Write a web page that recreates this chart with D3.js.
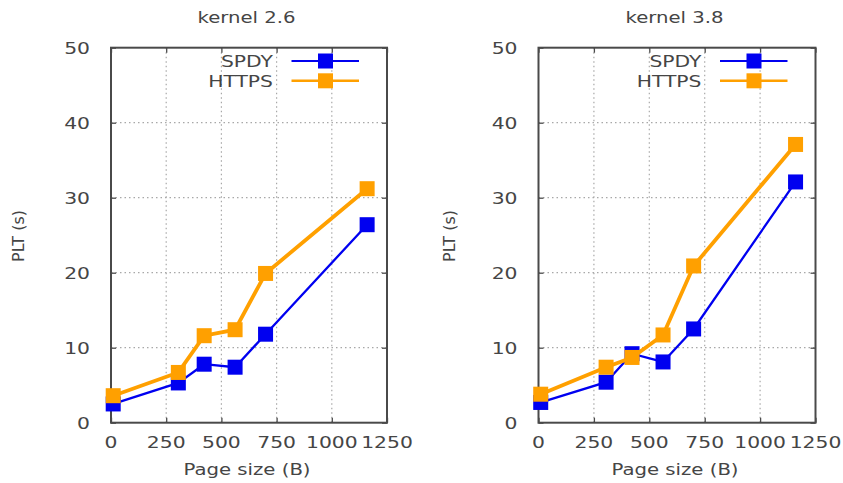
<!DOCTYPE html>
<html>
<head>
<meta charset="utf-8">
<script src="https://cdn.jsdelivr.net/npm/d3@7"></script>
<style>
  html, body { margin: 0; padding: 0; background: #fff; }
  svg { display: block; }
  text { font-family: "DejaVu Sans", sans-serif; fill: #454545; }
</style>
</head>
<body>
<svg id="chart" width="843" height="483"></svg>
<script>
// ---- data ----
const pageSizes = [10, 305, 422, 562, 700, 1160];
const seriesNames = ["SPDY", "HTTPS"];
const kernel26_SPDY  = [2.5, 5.3, 7.8, 7.4, 11.8, 26.4];
const kernel26_HTTPS = [3.6, 6.7, 11.6, 12.4, 19.9, 31.2];
const kernel38_SPDY  = [2.7, 5.4, 9.2, 8.1, 12.5, 32.1];
const kernel38_HTTPS = [3.8, 7.4, 8.7, 11.7, 20.9, 37.1];
const panelTitles = ["kernel 2.6", "kernel 3.8"];
const xTicks = [0, 250, 500, 750, 1000, 1250];
const yTicks = [0, 10, 20, 30, 40, 50];
const xLabel = "Page size (B)";
const yLabel = "PLT (s)";

const panels = [
  { title: panelTitles[0], series: [kernel26_SPDY, kernel26_HTTPS], left: 111, right: 387, ylabX: 18.5 },
  { title: panelTitles[1], series: [kernel38_SPDY, kernel38_HTTPS], left: 538.5, right: 815.5, ylabX: 449 }
];
const colors = ["#0000f0", "#ffa000"];
const lineW = [2.3, 3.8];
const legendLineW = [2, 2.6];
const plotTop = 47.7, plotBottom = 422.7;
const SX = 1.27; // horizontal stretch of the text
const frameColor = "#4a4a4a";

const svg = d3.select("#chart");

function stretchedText(g, x, y, str, anchor, size) {
  return g.append("text")
    .attr("transform", `translate(${x},${y}) scale(${SX},1)`)
    .attr("text-anchor", anchor)
    .attr("font-size", size)
    .text(str);
}

panels.forEach(p => {
  const g = svg.append("g");
  const x = d3.scaleLinear().domain([0, 1250]).range([p.left, p.right]);
  const y = d3.scaleLinear().domain([0, 50]).range([plotBottom, plotTop]);

  // grid
  g.append("g").selectAll("line").data(xTicks.slice(1, -1)).join("line")
    .attr("x1", d => x(d)).attr("x2", d => x(d)).attr("y1", plotTop).attr("y2", plotBottom)
    .attr("stroke", "#a8a8a8").attr("stroke-width", 1.2).attr("stroke-dasharray", "1.5,3");
  g.append("g").selectAll("line").data(yTicks.slice(1, -1)).join("line")
    .attr("y1", d => y(d)).attr("y2", d => y(d)).attr("x1", p.left).attr("x2", p.right)
    .attr("stroke", "#a8a8a8").attr("stroke-width", 1.2).attr("stroke-dasharray", "1.5,3");

  // inward ticks on all sides via axes
  const tickStyle = sel => {
    sel.select(".domain").remove();
    sel.selectAll(".tick line").attr("stroke", frameColor).attr("stroke-width", 1.3);
  };
  g.append("g").attr("transform", `translate(0,${plotBottom})`)
    .call(d3.axisBottom(x).tickValues(xTicks).tickSize(-5).tickFormat(""))
    .call(tickStyle);
  g.append("g").attr("transform", `translate(0,${plotTop})`)
    .call(d3.axisTop(x).tickValues(xTicks).tickSize(-5).tickFormat(""))
    .call(tickStyle);
  g.append("g").attr("transform", `translate(${p.left},0)`)
    .call(d3.axisLeft(y).tickValues(yTicks).tickSize(-5).tickFormat(""))
    .call(tickStyle);
  g.append("g").attr("transform", `translate(${p.right},0)`)
    .call(d3.axisRight(y).tickValues(yTicks).tickSize(-5).tickFormat(""))
    .call(tickStyle);

  // tick labels
  xTicks.forEach(t => stretchedText(g, x(t), 448, String(t), "middle", 16));
  yTicks.forEach(t => stretchedText(g, p.left - 21, y(t) + 5.8, String(t), "end", 16));

  // frame
  g.append("rect").attr("x", p.left).attr("y", plotTop)
    .attr("width", p.right - p.left).attr("height", plotBottom - plotTop)
    .attr("fill", "none").attr("stroke", frameColor).attr("stroke-width", 2);

  // series
  const line = d3.line().x((d, i) => x(pageSizes[i])).y(d => y(d));
  p.series.forEach((vals, si) => {
    g.append("path").datum(vals).attr("d", line)
      .attr("fill", "none").attr("stroke", colors[si]).attr("stroke-width", lineW[si])
      .attr("stroke-linejoin", "miter");
    const ms = 15;
    g.append("g").selectAll("rect").data(vals).join("rect")
      .attr("x", (d, i) => x(pageSizes[i]) - ms / 2)
      .attr("y", d => y(d) - ms / 2)
      .attr("width", ms).attr("height", ms)
      .attr("fill", colors[si]);
  });

  // legend
  seriesNames.forEach((name, si) => {
    const ly = 61 + si * 19.8;
    stretchedText(g, p.right - 114, ly + 5.8, name, "end", 16);
    g.append("line").attr("x1", p.right - 95.5).attr("x2", p.right - 28)
      .attr("y1", ly).attr("y2", ly)
      .attr("stroke", colors[si]).attr("stroke-width", legendLineW[si]);
    const ms = 15;
    g.append("rect").attr("x", p.right - 61.5 - ms / 2).attr("y", ly - ms / 2)
      .attr("width", ms).attr("height", ms).attr("fill", colors[si]);
  });

  // title
  stretchedText(g, (p.left + p.right) / 2 - 2.5, 22.5, p.title, "middle", 15.5);
  // x label
  stretchedText(g, (p.left + p.right) / 2 - 2, 475, xLabel, "middle", 15.5);
  // y label
  g.append("text")
    .attr("transform", `translate(${p.ylabX + 5.5},236) rotate(-90)`)
    .attr("text-anchor", "middle").attr("font-size", 16)
    .text(yLabel);
});
</script>
</body>
</html>
